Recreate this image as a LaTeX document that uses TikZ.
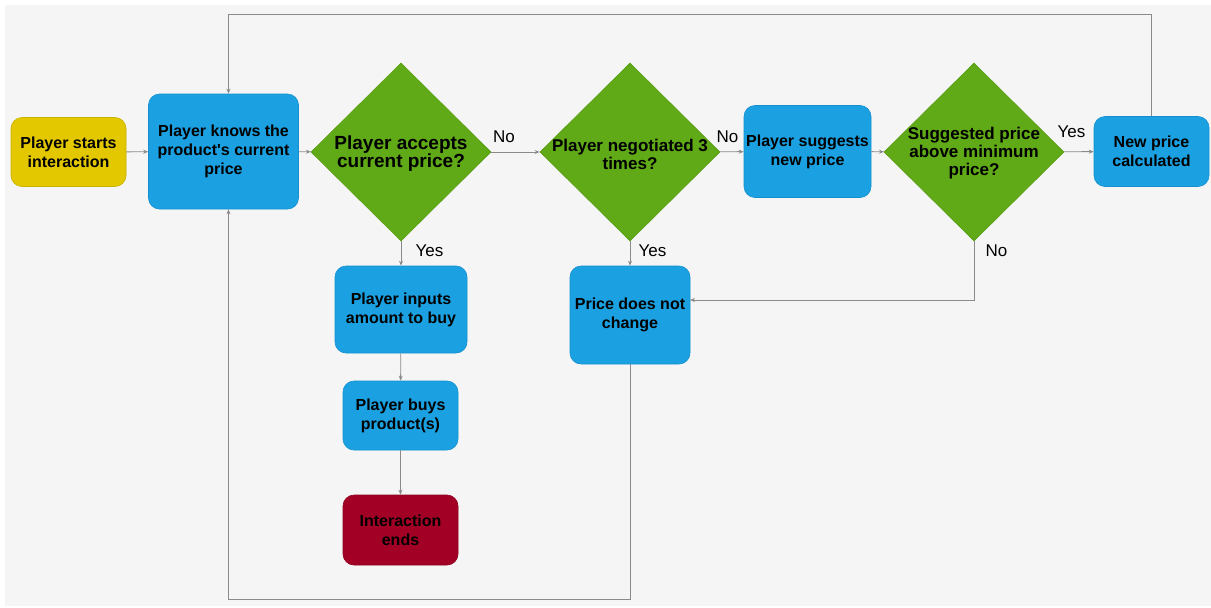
\documentclass[tikz,border=0pt]{standalone}
\usepackage{fontspec}
\setmainfont{Liberation Sans}
\usetikzlibrary{shapes.geometric,arrows.meta}
\definecolor{bgc}{HTML}{F5F5F5}
\definecolor{procfill}{HTML}{1BA1E2}
\definecolor{procline}{HTML}{1590CF}
\definecolor{decfill}{HTML}{60A917}
\definecolor{decline}{HTML}{5A9E16}
\definecolor{startfill}{HTML}{E3C800}
\definecolor{startline}{HTML}{C9B000}
\definecolor{endfill}{HTML}{A20025}
\definecolor{endline}{HTML}{8E0020}
\definecolor{wire}{HTML}{8A8A8A}
\tikzset{
  boxbase/.style={rounded corners=11pt, line width=0.6pt, inner sep=0pt, align=center,
    font=\bfseries\fontsize{16}{19}\selectfont, text=black},
  proc/.style={boxbase, fill=procfill, draw=procline},
  startbox/.style={boxbase, fill=startfill, draw=startline},
  endbox/.style={boxbase, fill=endfill, draw=endline},
  decision/.style={diamond, aspect=1, fill=decfill, draw=decline, line width=0.6pt,
    inner sep=0pt, minimum width=180pt, minimum height=178pt},
  dectext/.style={align=center, inner sep=0pt, text=black},
  flow/.style={draw=wire, line width=0.9pt, -{Stealth[length=5pt,width=4pt]}},
  tag/.style={font=\fontsize{17}{19}\selectfont, inner sep=0pt, text=black}
}
\begin{document}
\begin{tikzpicture}[x=1pt,y=-1pt]
\useasboundingbox (0,0) rectangle (1211,608);
\fill[bgc] (5,5) rectangle (1211,606);

% process boxes
\node[startbox, minimum width=115pt, minimum height=69pt] (start) at (68.5,152) {Player starts\\interaction};
\node[proc, minimum width=150pt, minimum height=115pt] (knows) at (223.5,151.5) {Player knows the\\product\textquotesingle s current\\price};
\node[proc, minimum width=127pt, minimum height=92pt] (suggest) at (807.5,151.5) {Player suggests\\new price};
\node[proc, minimum width=115pt, minimum height=70pt] (newp) at (1151.5,151.5) {New price\\calculated};
\node[proc, minimum width=132pt, minimum height=87pt] (inputs) at (401,309.5) {Player inputs\\amount to buy};
\node[proc, minimum width=115pt, minimum height=69pt] (buys) at (400.5,415.5) {Player buys\\product(s)};
\node[endbox, minimum width=115pt, minimum height=70pt] (ends) at (400.5,530) {Interaction\\ends};
\node[proc, minimum width=120pt, minimum height=98pt] (same) at (630,315) {Price does not\\change};

% decisions
\node[decision] (d1) at (401,152) {};
\node[dectext, font=\bfseries\fontsize{19}{18}\selectfont] (d1t) at (401,154) {Player accepts\\current price?};
\node[decision] (d2) at (630,152) {};
\node[dectext, font=\bfseries\fontsize{17}{18}\selectfont] (d2t) at (630,154) {Player negotiated 3\\times?};
\node[decision] (d3) at (974,152) {};
\node[dectext, font=\bfseries\fontsize{17}{18}\selectfont] (d3t) at (974,153) {Suggested price\\above minimum\\price?};

% loop-back corners
\coordinate (toprow) at (0,14);
\coordinate (botrow) at (0,599);
\coordinate (samein) at (690,300);

% connectors
\draw[flow] (start) -- (knows);
\draw[flow] (knows) -- (d1);
\draw[flow] (d1) -- (d2);
\draw[flow] (d2) -- (suggest);
\draw[flow] (suggest) -- (d3);
\draw[flow] (d3) -- (newp);
\draw[flow] (newp.north) -- (newp.north |- toprow) -| ([xshift=5pt]knows.north);
\draw[flow] (d1.south) -- (inputs.north);
\draw[flow] (inputs) -- (buys);
\draw[flow] (buys) -- (ends);
\draw[flow] (d2.south) -- (same.north);
\draw[flow] (d3.south) |- (samein);
\draw[flow] (same.south) -- (same.south |- botrow) -| ([xshift=5pt]knows.south);

% branch labels
\node[tag] (no1) at (504,137) {No};
\node[tag] (no2) at (727.5,137) {No};
\node[tag] (yes3) at (1071.5,132) {Yes};
\node[tag] (yes1) at (429.5,251) {Yes};
\node[tag] (yes2) at (652.5,251) {Yes};
\node[tag] (no3) at (996.5,251) {No};
\end{tikzpicture}
\end{document}
